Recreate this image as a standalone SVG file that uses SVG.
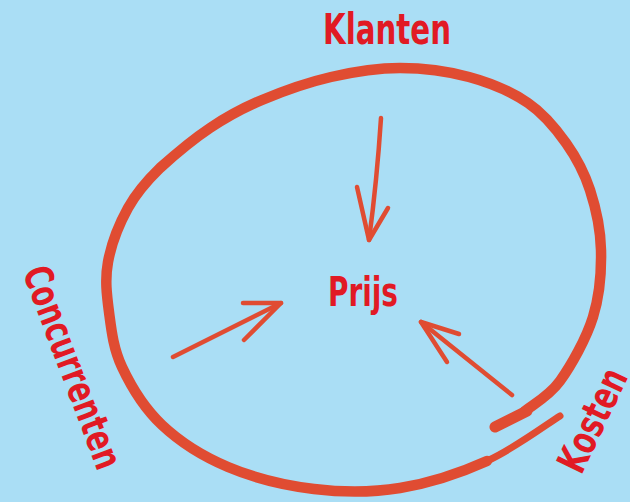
<svg xmlns="http://www.w3.org/2000/svg" width="630" height="502" viewBox="0 0 630 502">
<style>
.lbl{font-family:"DejaVu Sans Condensed","DejaVu Sans",sans-serif;font-weight:bold;fill:#E11A24;text-anchor:middle;font-stretch:condensed}
.ring{fill:none;stroke:#E04C32;stroke-width:10.5;stroke-linecap:round;stroke-linejoin:round}
.arr{fill:none;stroke:#E04C32;stroke-width:4.5;stroke-linecap:round;stroke-linejoin:round}
</style>
<rect width="630" height="502" fill="#AADEF5"/>
<g id="ring">
<path class="ring" style="stroke-width:7" d="M560,416 C547.8,423.5 513.7,449 487,461"/>
<path class="ring" d="M487,461 C460.3,473 428.8,483.3 400,488 C371.2,492.7 342.7,492.5 314,489 C285.3,485.5 253.3,477.7 228,467 C202.7,456.3 179.7,441.7 162,425 C144.3,408.3 130.8,385.8 122,367 C113.2,348.2 111.3,329.5 109,312 C106.7,294.5 104.8,279.3 108,262 C111.2,244.7 119.3,223.7 128,208 C136.7,192.3 146.3,181.3 160,168 C177,152.7 193,139.3 210,128 C227,116.7 241.8,108.5 262,100 C282.2,91.5 308,82.3 331,77 C354,71.7 377,68 400,68 C423,68 447.7,71.2 469,77 C490.3,82.8 511.8,92 528,103 C544.2,114 555.7,128.5 566,143 C576.3,157.5 584.2,172.2 590,190 C595.8,207.8 600.5,228.8 601,250 C601.5,271.2 599.8,295.2 593,317 C586.2,338.8 571.3,365.3 560,381 C548.7,396.7 530.8,406 525,411"/>
<path class="ring" style="stroke-width:11" d="M527,411 L495,427"/>
</g>
<g id="connectors">
<path class="arr" d="M381,118 Q377,180 369,240"/>
<path class="arr" d="M357,187 L369,240 L388,208"/>
<path class="arr" d="M173,357 L281,303"/>
<path class="arr" d="M243,303 L281,303 L244,340"/>
<path class="arr" d="M512,395 L421,322"/>
<path class="arr" d="M459,334 L421,322 L447,362"/>
</g>
<g id="klanten"><text class="lbl" x="387" y="44" font-size="42" textLength="128" lengthAdjust="spacingAndGlyphs">Klanten</text></g>
<g id="prijs"><text class="lbl" x="363" y="306" font-size="40" textLength="70" lengthAdjust="spacingAndGlyphs">Prijs</text></g>
<g id="concurrenten"><text class="lbl" transform="translate(60,372) rotate(69.3)" font-size="39" textLength="214" lengthAdjust="spacingAndGlyphs">Concurrenten</text></g>
<g id="kosten"><text class="lbl" transform="translate(605,426) rotate(-64.5)" font-size="40" textLength="110" lengthAdjust="spacingAndGlyphs">Kosten</text></g>
</svg>
